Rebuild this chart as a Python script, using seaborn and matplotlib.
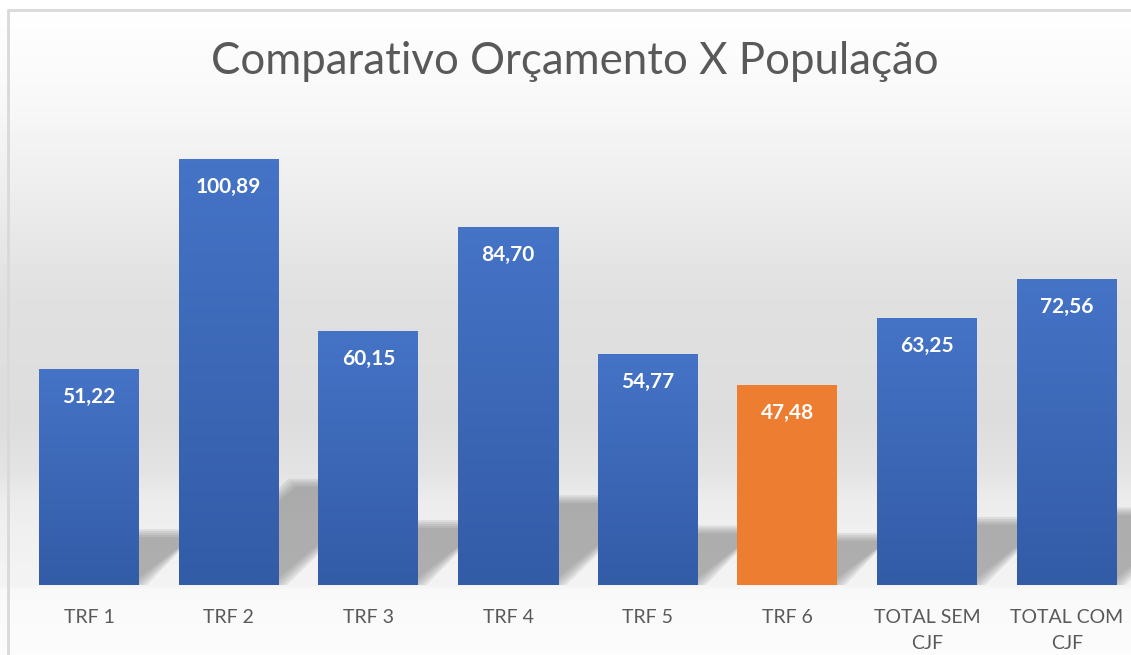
import numpy as np
import matplotlib.pyplot as plt
import seaborn as sns
from matplotlib.patches import Polygon

# Chart data
categories = ["TRF 1", "TRF 2", "TRF 3", "TRF 4", "TRF 5", "TRF 6",
              "TOTAL SEM\nCJF", "TOTAL COM\nCJF"]
values = [51.22, 100.89, 60.15, 84.70, 54.77, 47.48, 63.25, 72.56]
highlight = "TRF 6"

title = "Comparativo Orçamento X População"

sns.set_theme(style="white")
plt.rcParams['font.family'] = ['Lato', 'DejaVu Sans']

W, H = 1131, 655
fig = plt.figure(figsize=(W / 100, H / 100), dpi=100)

# Excel-like soft vertical gradient behind the chart
bg = fig.add_axes([0, 0, 1, 1], zorder=-10)
rows = np.arange(H)
stops_y = [0, 10, 100, 200, 300, 420, 470, 500, 530, 585, 590, 655]
stops_g = [1.0, 0.997, 0.972, 0.925, 0.878, 0.865, 0.89, 0.925, 0.94, 0.955, 0.975, 0.985]
grad = np.interp(rows, stops_y, stops_g)[:, None]
bg.imshow(grad, cmap="gray", vmin=0, vmax=1, aspect="auto", extent=[0, W, H, 0])
bg.plot([7.5, 7.5], [9.5, H], color="#d9d9d9", lw=2)
bg.plot([7.5, W], [9.5, 9.5], color="#d9d9d9", lw=2)
bg.set_xlim(0, W)
bg.set_ylim(H, 0)
bg.axis("off")

# Plot area geometry (category step ~139.7 px, baseline at y=585 px)
step = 139.7
ppu = 4.222  # pixels per value unit
left_px = 89 - 0.5 * step
ymax = 110
ax = fig.add_axes([left_px / W, (H - 585) / H, (W - left_px) / W, ymax * ppu / H])
ax.set_facecolor("none")

palette = ["#ED7D31" if c == highlight else "#4472C4" for c in categories]
sns.barplot(x=categories, y=values, hue=categories, palette=palette, legend=False,
            width=100 / step, saturation=1, linewidth=0, edgecolor="none",
            ax=ax, zorder=3)

# Soft slanted shadows behind the bars + gradient fill for blue bars
for patch, cat in zip(ax.patches, categories):
    x0, w, h = patch.get_x(), patch.get_width(), patch.get_height()
    x1 = x0 + w
    s = 0.24 * h
    D = s * ppu / 0.9 / step
    for e in [-4, -2, 0, 2, 4]:
        ex, ey = e / step, e / ppu
        poly = Polygon([(x0 - ex, -ey), (x1 + ex, -ey),
                        (x1 + D + ex, s + ey), (x0 + D - ex, s + ey)],
                       closed=True, facecolor="#7a7a7a", edgecolor="none",
                       alpha=0.15, zorder=1)
        ax.add_patch(poly)
    if cat != highlight:
        g = np.linspace(0, 1, 100)[:, None]
        top = np.array([0x45, 0x73, 0xC6]) / 255
        bot = np.array([0x33, 0x5C, 0xA7]) / 255
        img = bot + (top - bot) * g[..., None]
        im = ax.imshow(img, extent=[x0, x1, 0, h], origin="lower",
                       aspect="auto", zorder=4)
        im.set_clip_path(patch)

    ax.annotate(f"{h:.2f}".replace(".", ","), (x0 + w / 2, h),
                xytext=(0, -28), textcoords="offset pixels",
                ha="center", va="center", color="white",
                fontsize=15, fontweight="bold", zorder=6)

ax.set_xlim(-0.5, -0.5 + (W - left_px) / step)
ax.set_ylim(0, ymax)
ax.set_yticks([])
ax.set_xlabel("")
ax.set_ylabel("")
ax.tick_params(axis="x", length=0, pad=17, labelsize=14, labelcolor="#595959")
for lab in ax.get_xticklabels():
    lab.set_linespacing(1.65)
for sp in ax.spines.values():
    sp.set_visible(False)

fig.text(575 / W, 1 - 62 / H, title, ha="center", va="center",
         fontsize=31.5, color="#595959")

fig.savefig("out.png", dpi=100)
